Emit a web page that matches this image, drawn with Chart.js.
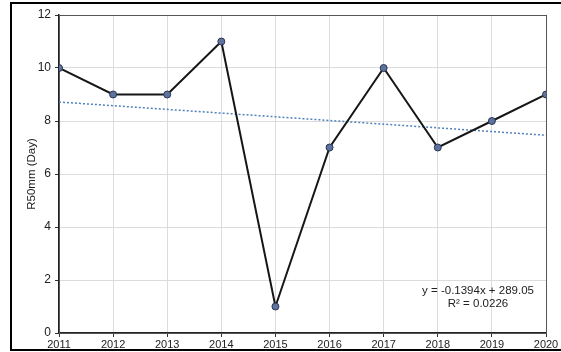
<!DOCTYPE html>
<html>
<head>
<meta charset="utf-8">
<title>R50mm</title>
<script src="https://cdn.jsdelivr.net/npm/chart.js@4.4.1/dist/chart.umd.min.js"></script>
<style>
  html, body { margin: 0; padding: 0; background: #fff; }
  #wrap { width: 561px; height: 352px; position: relative; }
</style>
</head>
<body>
<div id="wrap"><canvas id="r50-chart" width="561" height="352"></canvas></div>
<script>
// 年份与 R50mm 天数
const years = [2011, 2012, 2013, 2014, 2015, 2016, 2017, 2018, 2019, 2020];
const r50Days = [10, 9, 9, 11, 1, 7, 10, 7, 8, 9];

// 线性趋势线 y = -0.1394x + 289.05, R² = 0.0226
const trendSlope = -0.1394;
const trendIntercept = 289.05;
const trendR2 = 0.0226;

// 坐标轴范围
const yMin = 0, yMax = 12, yStep = 2;

const trendPoints = [years[0], years[years.length - 1]].map(x => ({ x: x, y: trendSlope * x + trendIntercept }));

const FONT = '"Liberation Sans", Arial, sans-serif';

// 外框、绘图区边框和趋势公式
const framePlugin = {
    id: 'frame',
    beforeDatasetsDraw(chart) {
        const { ctx, chartArea: a } = chart;
        ctx.save();
        ctx.strokeStyle = '#555';
        ctx.lineWidth = 1;
        ctx.strokeRect(a.left + 0.5, a.top + 0.5, a.right - a.left, a.bottom - a.top);
        ctx.restore();
    },
    afterDraw(chart) {
        const { ctx, chartArea: a } = chart;
        ctx.save();
        ctx.strokeStyle = '#000';
        ctx.lineWidth = 2;
        ctx.beginPath();
        ctx.moveTo(561, 3);
        ctx.lineTo(11, 3);
        ctx.lineTo(11, 350);
        ctx.lineTo(561, 350);
        ctx.stroke();

        ctx.fillStyle = '#222';
        ctx.font = '11.5px ' + FONT;
        ctx.textAlign = 'center';
        ctx.textBaseline = 'middle';
        const cx = a.right - 68;
        const sign = trendIntercept >= 0 ? '+' : '-';
        ctx.fillText('y = ' + trendSlope + 'x ' + sign + ' ' + Math.abs(trendIntercept), cx, a.bottom - 42);
        ctx.fillText('R² = ' + trendR2, cx, a.bottom - 29);
        ctx.restore();
    }
};

new Chart(document.getElementById('r50-chart'), {
    type: 'line',
    data: {
        datasets: [
            {
                label: 'R50mm',
                data: years.map((y, i) => ({ x: y, y: r50Days[i] })),
                borderColor: '#161616',
                borderWidth: 2,
                pointRadius: 3.5,
                pointBackgroundColor: '#5d72a0',
                pointBorderColor: '#2b3650',
                pointBorderWidth: 1,
                tension: 0,
                order: 1
            },
            {
                label: '趋势线',
                data: trendPoints,
                borderColor: '#4f81bd',
                borderWidth: 1.5,
                borderDash: [2, 2],
                pointRadius: 0,
                order: 2
            }
        ]
    },
    options: {
        responsive: false,
        animation: false,
        layout: { padding: { left: 0, top: 15, right: 15, bottom: 0 } },
        plugins: { legend: { display: false }, tooltip: { enabled: false } },
        scales: {
            x: {
                type: 'linear',
                min: years[0],
                max: years[years.length - 1],
                ticks: {
                    stepSize: 1,
                    color: '#222',
                    font: { family: FONT, size: 11 },
                    padding: 1,
                    maxRotation: 0,
                    callback: v => String(v)
                },
                grid: { color: '#dcdcdc', tickColor: '#333', tickLength: 4 },
                border: { color: '#222', width: 1.5 },
                afterFit: s => { s.height = 19; }
            },
            y: {
                min: yMin,
                max: yMax,
                ticks: {
                    stepSize: yStep,
                    color: '#222',
                    font: { family: FONT, size: 12 },
                    padding: 4
                },
                grid: { color: '#dcdcdc', tickColor: '#333', tickLength: 4 },
                border: { color: '#222', width: 1.5 },
                title: {
                    display: true,
                    text: 'R50mm (Day)',
                    color: '#222',
                    font: { family: FONT, size: 11.5 },
                    padding: { top: 25, bottom: 0 }
                },
                afterFit: s => { s.width = 59; }
            }
        }
    },
    plugins: [framePlugin]
});
</script>
</body>
</html>
